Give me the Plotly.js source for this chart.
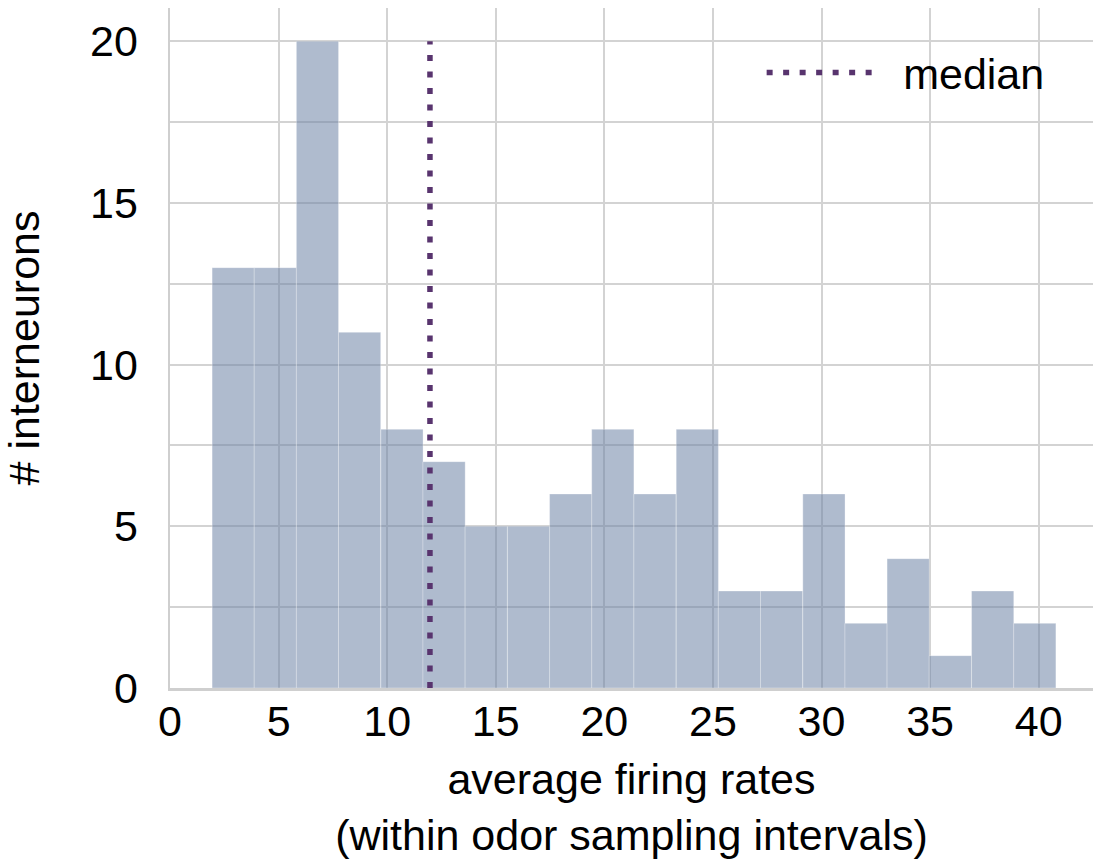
<!DOCTYPE html>
<html>
<head>
<meta charset="utf-8">
<script src="https://cdn.plot.ly/plotly-3.0.1.min.js"></script>
<style>
  html, body { margin: 0; padding: 0; background: #ffffff; }
  #chart { width: 1093px; height: 859px; }
</style>
</head>
<body>
<div id="chart"></div>
<script>
// Histogram bins (centres, firing rate) and counts
const binCenters = [2.91, 4.85, 6.79, 8.73, 10.68, 12.62, 14.56, 16.51, 18.45, 20.39,
                    22.33, 24.28, 26.22, 28.16, 30.11, 32.05, 33.99, 35.93, 37.88, 39.82];
const counts = [13, 13, 20, 11, 8, 7, 5, 5, 6, 8,
                6, 8, 3, 3, 6, 2, 4, 1, 3, 2];
const binWidth = 1.943;
const medianRate = 11.97;
const xTickVals = [0, 5, 10, 15, 20, 25, 30, 35, 40];
const yTickVals = [0, 5, 10, 15, 20];

const FONT = 'Liberation Sans, Arial, Helvetica, sans-serif';
const FS = 43;
const GRID = '#d3d3d3';
const maxCount = Math.max(...counts);

const traces = [
  {
    type: 'bar',
    x: binCenters,
    y: counts,
    width: binWidth,
    marker: {
      color: 'rgba(110,132,166,0.55)',
      line: { color: 'rgba(255,255,255,0.3)', width: 1 }
    },
    showlegend: false,
    hoverinfo: 'x+y'
  },
  {
    type: 'scatter',
    mode: 'lines',
    name: '\u2002median',
    x: [medianRate, medianRate],
    y: [0, maxCount],
    line: { color: 'rgb(88,52,110)', width: 5.5, dash: '6px,10.5px' },
    showlegend: true
  }
];

const layout = {
  width: 1093,
  height: 859,
  paper_bgcolor: '#ffffff',
  plot_bgcolor: '#ffffff',
  margin: { l: 170, r: 0, t: 8, b: 171, pad: 0 },
  font: { family: FONT, size: FS, color: '#000000' },
  bargap: 0,
  showlegend: true,
  legend: {
    x: 0.641, xanchor: 'left',
    y: 0.905, yanchor: 'middle',
    itemwidth: 110,
    bgcolor: 'rgba(0,0,0,0)',
    borderwidth: 0,
    font: { family: FONT, size: FS, color: '#000000' }
  },
  xaxis: {
    range: [0, 42.5],
    tickmode: 'array',
    tickvals: xTickVals,
    ticktext: xTickVals.map(String),
    ticks: '',
    ticklabelstandoff: -6,
    showgrid: true,
    gridcolor: GRID,
    gridwidth: 2,
    zeroline: false,
    showline: true,
    linecolor: '#cfcfcf',
    linewidth: 2.5,
    tickfont: { family: FONT, size: FS, color: '#000000' },
    title: {
      text: 'average firing rates<br>(within odor sampling intervals)',
      font: { family: FONT, size: FS, color: '#000000' },
      standoff: 31
    },
    automargin: false
  },
  yaxis: {
    range: [0, 21.03],
    tickmode: 'array',
    tickvals: yTickVals,
    ticktext: yTickVals.map(String),
    ticks: 'outside',
    ticklen: 21,
    tickcolor: 'rgba(0,0,0,0)',
    showgrid: true,
    gridcolor: GRID,
    gridwidth: 2,
    minor: { dtick: 2.5, tick0: 0, showgrid: true, gridcolor: GRID, gridwidth: 2 },
    zeroline: false,
    showline: true,
    linecolor: '#cfcfcf',
    linewidth: 2.5,
    tickfont: { family: FONT, size: FS, color: '#000000' },
    title: {
      text: '# interneurons',
      font: { family: FONT, size: FS, color: '#000000' },
      standoff: 46
    },
    automargin: false
  }
};

Plotly.newPlot('chart', traces, layout, { displayModeBar: false, staticPlot: true });
</script>
</body>
</html>
